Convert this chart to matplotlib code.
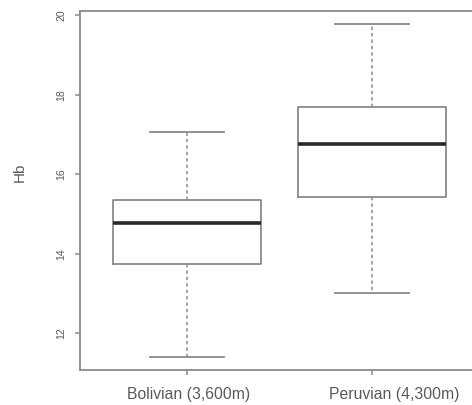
import matplotlib
matplotlib.use("Agg")
import matplotlib.pyplot as plt
from matplotlib.transforms import blended_transform_factory, offset_copy

categories = ["Bolivian (3,600m)", "Peruvian (4,300m)"]
whislo = [11.41, 13.00]
q1 = [13.74, 15.43]
medians = [14.77, 16.77]
q3 = [15.35, 17.68]
whishi = [17.05, 19.77]
yticks = [12, 14, 16, 18, 20]
ylabel = "Hb"

plt.rcParams['font.family'] = ['Liberation Sans', 'DejaVu Sans']

W, H = 472, 405
fig = plt.figure(figsize=(W / 100, H / 100), dpi=100)
fig.patch.set_facecolor('white')
ax = fig.add_axes([80 / W, (H - 370) / H, (479 - 80) / W, (370 - 11) / H])

stats = []
for i, c in enumerate(categories):
    stats.append(dict(label=c, whislo=whislo[i], q1=q1[i], med=medians[i],
                      q3=q3[i], whishi=whishi[i], fliers=[]))

line_col = '#8a8a8a'
text_col = '#5a5a5a'
ax.bxp(stats, positions=[1, 2], widths=0.8, showfliers=False,
       boxprops=dict(color=line_col, linewidth=1.3),
       medianprops=dict(color='#2a2a2a', linewidth=2.6, solid_capstyle='butt'),
       whiskerprops=dict(color=line_col, linewidth=1.1, linestyle=(0, (2.2, 2.0))),
       capprops=dict(color=line_col, linewidth=1.3),
       capwidths=0.4)

lo, hi = min(whislo), max(whishi)
pad = (hi - lo) * 0.04
ax.set_ylim(lo - pad, hi + pad)
ax.set_xlim(0.42, 2.58)

for s in ax.spines.values():
    s.set_color(line_col)
    s.set_linewidth(1.3)

ax.set_yticks(yticks)
ax.set_yticklabels([str(t) for t in yticks], rotation=90, va='center',
                   fontsize=7.5, color=text_col)
ax.set_xticks([1, 2])
ax.set_xticklabels([])
ax.tick_params(axis='y', length=3.5, width=1.1, color=line_col, pad=6.5)
ax.tick_params(axis='x', length=3.5, width=1.1, color=line_col)

# category labels under the ticks
trans = blended_transform_factory(ax.transData, ax.transAxes)
label_shift_px = [1, 22]
for i, c in enumerate(categories):
    t = offset_copy(trans, fig=fig, x=label_shift_px[i], y=-17, units='dots')
    ax.text(i + 1, 0, c, transform=t, ha='center', va='top',
            fontsize=11.3, color=text_col)

ax.set_ylabel(ylabel, fontsize=11, color=text_col)
ax.yaxis.set_label_coords(-53 / 399, (370 - 172) / 359)

fig.savefig("out.png", dpi=100, facecolor='white')
